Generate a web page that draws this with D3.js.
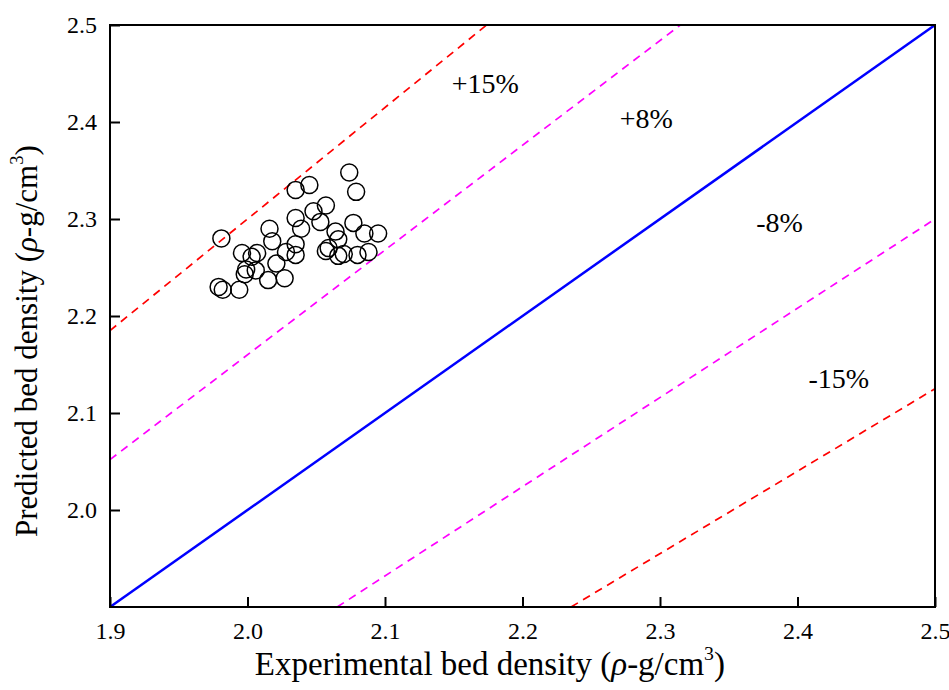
<!DOCTYPE html>
<html>
<head>
<meta charset="utf-8">
<script src="https://cdn.jsdelivr.net/npm/d3@7"></script>
<style>
  body { margin: 0; background: #fff; }
  text { font-family: "Liberation Serif", "Times New Roman", serif; fill: #000; }
</style>
</head>
<body>
<svg id="chart" width="949" height="690"></svg>
<script>
// measured vs predicted bed density
const expDensity = [2.074, 2.079, 2.035, 2.045, 2.057, 2.048, 2.035, 2.039, 2.053, 2.016,
  2.077, 2.064, 2.085, 2.095, 2.018, 2.035, 1.981, 2.066, 1.996, 2.007,
  2.003, 2.028, 2.035, 2.059, 2.057, 2.070, 2.066, 2.080, 2.088, 2.021,
  1.999, 2.006, 1.998, 2.027, 2.015, 1.979, 1.982, 1.994];
const predDensity = [2.348, 2.328, 2.330, 2.335, 2.314, 2.308, 2.301, 2.290, 2.297, 2.290,
  2.296, 2.287, 2.285, 2.285, 2.277, 2.274, 2.280, 2.279, 2.265, 2.265,
  2.261, 2.266, 2.263, 2.270, 2.267, 2.264, 2.262, 2.263, 2.266, 2.254,
  2.248, 2.247, 2.243, 2.239, 2.237, 2.230, 2.227, 2.227];

const xTicks = [1.9, 2.0, 2.1, 2.2, 2.3, 2.4, 2.5];
const yTicks = [2.0, 2.1, 2.2, 2.3, 2.4, 2.5];

// reference lines y = f * x
const lineFactors = [1.15, 1.08, 1.0, 0.92, 0.85];
const lineColors = ["#ff0000", "#ff00ff", "#0000ff", "#ff00ff", "#ff0000"];

const bandLabels = ["+15%", "+8%", "-8%", "-15%"];
const bandLabelX = [2.173, 2.290, 2.387, 2.430];
const bandLabelY = [2.440, 2.404, 2.297, 2.136];

const width = 949;
const height = 690;
const margin = { top: 25, right: 14, bottom: 83, left: 110 };

const svg = d3.select("#chart");

const x = d3.scaleLinear().domain([1.9, 2.5]).range([margin.left, width - margin.right]);
const y = d3.scaleLinear().domain([1.9, 2.5]).range([height - margin.bottom, margin.top]);

// Reference lines, clipped to the 1.9-2.5 square
const lines = lineFactors.map((f, i) => {
  const x0 = Math.max(1.9, 1.9 / f);
  const x1 = Math.min(2.5, 2.5 / f);
  return { f, color: lineColors[i], pts: [[x0, f * x0], [x1, f * x1]] };
});

svg.selectAll(".ref")
  .data(lines)
  .enter()
  .append("line")
  .attr("class", "ref")
  .attr("x1", d => x(d.pts[0][0]))
  .attr("y1", d => y(d.pts[0][1]))
  .attr("x2", d => x(d.pts[1][0]))
  .attr("y2", d => y(d.pts[1][1]))
  .attr("stroke", d => d.color)
  .attr("stroke-width", d => d.f === 1 ? 2.5 : 1.7)
  .attr("stroke-dasharray", d => d.f === 1 ? null : "8,6");

// Points
svg.selectAll(".pt")
  .data(expDensity.map((v, i) => [v, predDensity[i]]))
  .enter()
  .append("circle")
  .attr("class", "pt")
  .attr("cx", d => x(d[0]))
  .attr("cy", d => y(d[1]))
  .attr("r", 8.5)
  .attr("fill", "none")
  .attr("stroke", "#000")
  .attr("stroke-width", 1.5);

// Axes (ticks point inward)
const xAxis = d3.axisBottom(x).tickValues(xTicks).tickFormat(d3.format(".1f"))
  .tickSize(-10).tickPadding(15);
const yAxis = d3.axisLeft(y).tickValues(yTicks).tickFormat(d3.format(".1f"))
  .tickSize(-10).tickPadding(13);

const gx = svg.append("g")
  .attr("transform", `translate(0, ${height - margin.bottom})`)
  .call(xAxis);
const gy = svg.append("g")
  .attr("transform", `translate(${margin.left}, 0)`)
  .call(yAxis);

[gx, gy].forEach(g => {
  g.attr("font-family", null).attr("font-size", null);
  g.select(".domain").remove();
  g.selectAll(".tick line").attr("stroke", "#000").attr("stroke-width", 2);
  g.selectAll(".tick text")
    .style("font-family", "'Liberation Serif', 'Times New Roman', serif")
    .style("font-size", "24px")
    .attr("fill", "#000");
});

// Frame
svg.append("rect")
  .attr("x", margin.left)
  .attr("y", margin.top)
  .attr("width", width - margin.left - margin.right)
  .attr("height", height - margin.top - margin.bottom)
  .attr("fill", "none")
  .attr("stroke", "#000")
  .attr("stroke-width", 2);

// Band labels
svg.selectAll(".band-label")
  .data(bandLabels)
  .enter()
  .append("text")
  .attr("class", "band-label")
  .attr("x", (d, i) => x(bandLabelX[i]))
  .attr("y", (d, i) => y(bandLabelY[i]))
  .attr("dy", "0.35em")
  .attr("text-anchor", "middle")
  .style("font-size", "28px")
  .text(d => d);

// Axis titles
function title(sel, main) {
  sel.append("tspan").text(main + " (");
  sel.append("tspan").style("font-style", "italic").text("ρ");
  sel.append("tspan").text("-g/cm");
  sel.append("tspan").attr("dy", "-0.75em").style("font-size", "60%").text("3");
  sel.append("tspan").attr("dy", "0.45em").text(")");
}

svg.append("text")
  .attr("x", 725)
  .attr("y", 675)
  .attr("text-anchor", "end")
  .style("font-size", "33px")
  .call(title, "Experimental bed density");

svg.append("text")
  .attr("transform", "translate(37, 537) rotate(-90)")
  .attr("text-anchor", "start")
  .style("font-size", "31px")
  .call(title, "Predicted bed density");
</script>
</body>
</html>
